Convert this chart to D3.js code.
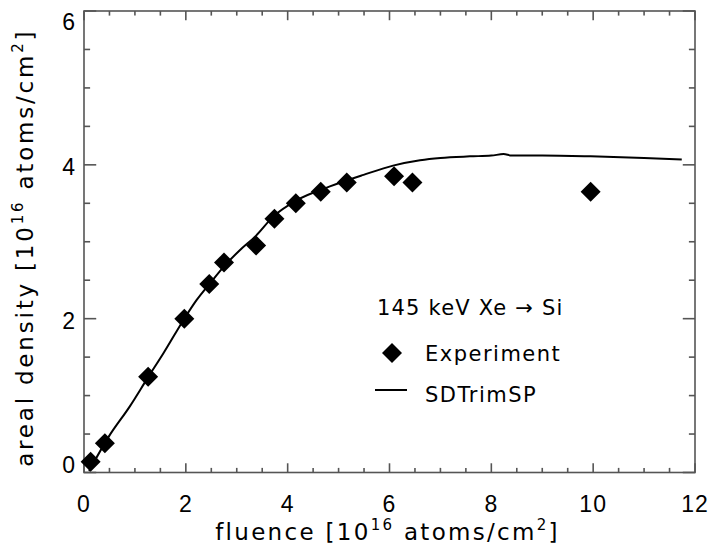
<!DOCTYPE html>
<html>
<head>
    <title>areal density vs fluence</title>
</head>
<body style="margin:0">
<style type="text/css">
    body {
        background: #fff;
    }

    #renderer {
        width: 712px;
        height: 557px;
        background: #fff;
        display: block;
    }

    text {
        font-family: "DejaVu Sans", sans-serif;
        fill: #000;
    }

    text.tick {
        font-family: "Liberation Sans", Arial, sans-serif;
    }
</style>
<script type="text/javascript" src="https://cdnjs.cloudflare.com/ajax/libs/d3/7.8.5/d3.min.js"></script>
<svg id='renderer'></svg>

<script type="text/javascript">
    // measured points (fluence, areal density), both in 10^16 atoms/cm^2
    var expFluence = [0.13, 0.41, 1.26, 1.97, 2.46, 2.75, 3.38, 3.74, 4.16, 4.65, 5.16, 6.09, 6.45, 9.95];
    var expDensity = [0.14, 0.38, 1.245, 2.0, 2.45, 2.73, 2.95, 3.30, 3.50, 3.65, 3.77, 3.85, 3.77, 3.65];

    // SDTrimSP simulation curve
    var simFluence = [0.1, 0.48, 0.9, 1.26, 1.56, 1.97, 2.21, 2.5, 2.75, 3.06, 3.38, 3.72, 4.18, 4.83,
        5.49, 6.07, 6.6, 7.0, 7.58, 8.0, 8.24, 8.4, 9.0, 9.95, 11.0, 11.74];
    var simDensity = [0.02, 0.46, 0.86, 1.24, 1.55, 2.0, 2.24, 2.48, 2.68, 2.89, 3.08, 3.33, 3.54, 3.72,
        3.87, 3.99, 4.06, 4.09, 4.11, 4.12, 4.14, 4.12, 4.12, 4.11, 4.09, 4.07];

    var xTicks = [0, 2, 4, 6, 8, 10, 12];
    var yTicks = [0, 2, 4, 6];

    var root = d3.select('#renderer');

    // plot box
    var boxLeft = 84, boxRight = 695, boxTop = 11, boxBottom = 472.5;
    var plotW = boxRight - boxLeft, plotH = boxBottom - boxTop;

    var x = d3.scaleLinear().domain([0, 12]).range([boxLeft, boxRight]);
    var y = d3.scaleLinear().domain([0, 6]).range([boxBottom, boxTop]);

    var axisColor = '#555';
    // IDL style: tick length is 2% of the other dimension, minor ticks half
    var xMajor = 0.02 * plotH, yMajor = 0.02 * plotW;

    var xMinor = d3.range(0, 12.01, 0.5);
    var yMinor = d3.range(0, 6.01, 0.5);

    var axes = root.append('g');
    axes.append('rect')
        .attr('x', boxLeft).attr('y', boxTop)
        .attr('width', plotW).attr('height', plotH)
        .attr('fill', 'none')
        .attr('stroke', axisColor)
        .attr('stroke-width', 1.6);

    function isMajor(v) { return Math.abs(v % 2) < 1e-6; }

    // x ticks, bottom and top
    xMinor.forEach(function (v) {
        var len = isMajor(v) ? xMajor : xMajor / 2;
        axes.append('line')
            .attr('x1', x(v)).attr('x2', x(v))
            .attr('y1', boxBottom).attr('y2', boxBottom - len)
            .attr('stroke', axisColor).attr('stroke-width', 1.6);
        axes.append('line')
            .attr('x1', x(v)).attr('x2', x(v))
            .attr('y1', boxTop).attr('y2', boxTop + len)
            .attr('stroke', axisColor).attr('stroke-width', 1.6);
    });

    // y ticks, left and right
    yMinor.forEach(function (v) {
        var len = isMajor(v) ? yMajor : yMajor / 2;
        axes.append('line')
            .attr('x1', boxLeft).attr('x2', boxLeft + len)
            .attr('y1', y(v)).attr('y2', y(v))
            .attr('stroke', axisColor).attr('stroke-width', 1.6);
        axes.append('line')
            .attr('x1', boxRight).attr('x2', boxRight - len)
            .attr('y1', y(v)).attr('y2', y(v))
            .attr('stroke', axisColor).attr('stroke-width', 1.6);
    });

    // tick labels
    root.selectAll('.xlab').data(xTicks).enter().append('text')
        .attr('class', 'xlab tick')
        .text(function (d) { return d; })
        .attr('x', function (d) { return x(d); })
        .attr('y', boxBottom + 39)
        .attr('font-size', 23)
        .attr('letter-spacing', 1)
        .attr('text-anchor', 'middle');

    // the end labels are pulled inside the box, like the original
    root.selectAll('.ylab').data(yTicks).enter().append('text')
        .attr('class', 'ylab tick')
        .text(function (d) { return d; })
        .attr('x', boxLeft - 9)
        .attr('y', function (d) {
            var mid = Math.min(Math.max(y(d) + 2, boxTop + 11), boxBottom - 7.5);
            return mid + 8;
        })
        .attr('font-size', 23)
        .attr('text-anchor', 'end');

    // axis titles
    function unitTitle(sel, label) {
        sel.append('tspan').text(label + ' [10');
        sel.append('tspan').text('16').attr('font-size', 15).attr('dy', -10);
        sel.append('tspan').text(' atoms/cm').attr('dy', 10);
        sel.append('tspan').text('2').attr('font-size', 15).attr('dy', -10);
        sel.append('tspan').text(']').attr('dy', 10);
    }

    var xTitle = root.append('text')
        .attr('x', (boxLeft + boxRight) / 2 - 2)
        .attr('y', 540)
        .attr('font-size', 23)
        .attr('letter-spacing', 2.3)
        .attr('text-anchor', 'middle');
    unitTitle(xTitle, 'fluence');

    var yTitle = root.append('text')
        .attr('transform', 'translate(33,' + ((boxTop + boxBottom) / 2 + 6) + ') rotate(-90)')
        .attr('font-size', 23)
        .attr('letter-spacing', 2.8)
        .attr('text-anchor', 'middle');
    unitTitle(yTitle, 'areal density');

    // simulation curve
    var line = d3.line()
        .x(function (d) { return x(d[0]); })
        .y(function (d) { return y(d[1]); })
        .curve(d3.curveMonotoneX);

    root.append('path')
        .datum(d3.zip(simFluence, simDensity))
        .attr('d', line)
        .attr('fill', 'none')
        .attr('stroke', '#000')
        .attr('stroke-width', 2);

    // experiment diamonds
    var diamond = d3.symbol().type(d3.symbolSquare).size(200);
    root.selectAll('.pt').data(d3.zip(expFluence, expDensity)).enter().append('path')
        .attr('class', 'pt')
        .attr('d', diamond)
        .attr('transform', function (d) {
            return 'translate(' + x(d[0]) + ',' + y(d[1]) + ') rotate(45)';
        })
        .attr('fill', '#000');

    // legend
    var legend = root.append('g');
    legend.append('text')
        .text('145 keV Xe \u2192 Si')
        .attr('x', 377).attr('y', 315)
        .attr('font-size', 21)
        .attr('letter-spacing', 1.2);

    legend.append('path')
        .attr('d', diamond)
        .attr('transform', 'translate(392,353) rotate(45)')
        .attr('fill', '#000');
    legend.append('text')
        .text('Experiment')
        .attr('x', 425).attr('y', 361)
        .attr('font-size', 21)
        .attr('letter-spacing', 1.5);

    legend.append('line')
        .attr('x1', 375).attr('x2', 407)
        .attr('y1', 390).attr('y2', 390)
        .attr('stroke', '#000')
        .attr('stroke-width', 2);
    legend.append('text')
        .text('SDTrimSP')
        .attr('x', 425).attr('y', 402)
        .attr('font-size', 21)
        .attr('letter-spacing', 1.5);
</script>
</body>
</html>
